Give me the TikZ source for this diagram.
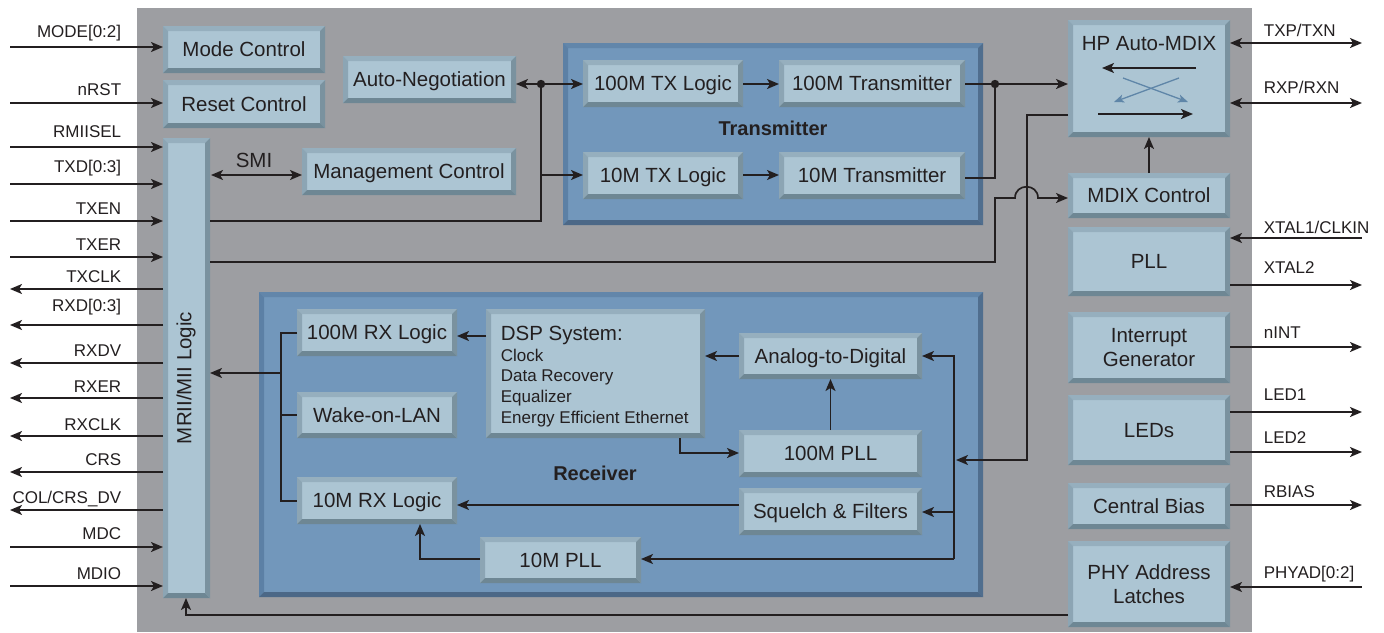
\documentclass[tikz,border=0pt]{standalone}
\usepackage{fontspec}
\setmainfont{Liberation Sans}
\usetikzlibrary{arrows.meta}
\definecolor{ink}{RGB}{35,31,32}
\definecolor{bggray}{RGB}{157,158,162}
\definecolor{boxfill}{RGB}{172,197,211}
\definecolor{bvtop}{RGB}{150,175,190}
\definecolor{bvleft}{RGB}{140,165,180}
\definecolor{bvright}{RGB}{122,146,159}
\definecolor{bvbot}{RGB}{110,135,148}
\definecolor{contfill}{RGB}{114,151,187}
\definecolor{ctop}{RGB}{98,134,170}
\definecolor{cleft}{RGB}{92,128,165}
\definecolor{cright}{RGB}{80,110,142}
\definecolor{cbot}{RGB}{76,104,135}
\definecolor{xblue}{RGB}{95,134,168}
\newcommand\mybevel[5]{%
 \fill[#2] (path picture bounding box.north west) -- (path picture bounding box.north east) -- ([xshift=-#1,yshift=-#1]path picture bounding box.north east) -- ([xshift=#1,yshift=-#1]path picture bounding box.north west) -- cycle;
 \fill[#3] (path picture bounding box.north west) -- ([xshift=#1,yshift=-#1]path picture bounding box.north west) -- ([xshift=#1,yshift=#1]path picture bounding box.south west) -- (path picture bounding box.south west) -- cycle;
 \fill[#4] (path picture bounding box.north east) -- (path picture bounding box.south east) -- ([xshift=-#1,yshift=#1]path picture bounding box.south east) -- ([xshift=-#1,yshift=-#1]path picture bounding box.north east) -- cycle;
 \fill[#5] (path picture bounding box.south west) -- (path picture bounding box.south east) -- ([xshift=-#1,yshift=#1]path picture bounding box.south east) -- ([xshift=#1,yshift=#1]path picture bounding box.south west) -- cycle;}
\tikzset{
 bxm/.style={rectangle, fill=boxfill, inner sep=0pt, outer sep=0pt, align=center,
   font=\fontsize{20.5pt}{23.5pt}\selectfont, text=ink,
   path picture={\mybevel{5pt}{bvtop}{bvleft}{bvright}{bvbot}}},
 bx/.style={bxm, text height=14.7pt, text depth=0pt},
 cont/.style={rectangle, fill=contfill, inner sep=0pt, outer sep=0pt,
   path picture={\mybevel{5pt}{ctop}{cleft}{cright}{cbot}}},
 sig/.style={font=\fontsize{17pt}{20pt}\selectfont, inner sep=0pt},
 big/.style={font=\fontsize{20.5pt}{23.5pt}\selectfont, inner sep=0pt},
 bold/.style={font=\fontsize{20pt}{23pt}\selectfont\bfseries, inner sep=0pt},
}
% [style]{name}{x1}{y1}{x2}{y2}{text}
\newcommand\bbox[7][bx]{\node[#1, minimum width={#5-#3}, minimum height={#6-#4}] (#2) at ({(#3+#5)/2},{(#4+#6)/2}) {#7};}
% left input: y, label, baseline, name
\newcommand\linsig[4]{\coordinate (#4) at (10,#1);
 \draw[->] (#4) -- (mii.west |- #4);
 \node[sig, anchor=base east] (#4l) at (122,#3) {#2};}
\newcommand\loutsig[4]{\coordinate (#4) at (10,#1);
 \draw[->] (mii.west |- #4) -- (#4);
 \node[sig, anchor=base east] (#4l) at (122,#3) {#2};}
% right signals: box, y, label, baseline, name, arrow style
\newcommand\rsig[6]{\coordinate (#5) at (1362,#2);
 \draw[#6] (#1.east |- #5) -- (#5);
 \node[sig, anchor=base west] (#5l) at (1263,#4) {#3};}
\begin{document}
\begin{tikzpicture}[x=1pt,y=-1pt, color=ink, line width=1.7pt,
  >={Stealth[length=12pt,width=10pt,inset=3pt]}]
\useasboundingbox (0,0) rectangle (1384,632);
\fill[bggray] (137,8) rectangle (1252,632);
% containers
\bbox[cont]{txc}{563}{43}{983}{225}{}
\bbox[cont]{rxc}{259}{292}{983}{597}{}
\node[bold] (txlab) at (773,128) {Transmitter};
\node[bold] (rxlab) at (595,473) {Receiver};
% boxes
\bbox{mode}{163}{26}{325}{73}{Mode Control}
\bbox{reset}{163}{80}{325}{128}{Reset Control}
\bbox{mii}{163}{138}{210}{598}{}
\node[big, rotate=90] (miit) at (186,378) {MRII/MII Logic};
\bbox{mgmt}{302}{148}{516}{195}{Management Control}
\bbox{autoneg}{343}{56}{516}{103}{Auto-Negotiation}
\bbox{txhl}{583}{60}{743}{107}{100M TX Logic}
\bbox{txtl}{583}{152}{743}{199}{10M TX Logic}
\bbox{txh}{779}{60}{965}{107}{100M Transmitter}
\bbox{txt}{779}{152}{965}{199}{10M Transmitter}
\bbox{mdix}{1068}{20}{1230}{137}{}
\node[big, anchor=base] (mdixt) at (1149,50) {HP Auto-MDIX};
\bbox{mdixc}{1068}{173}{1230}{218}{MDIX Control}
\bbox{pll}{1068}{227}{1230}{296}{PLL}
\bbox[bxm]{intg}{1068}{312}{1230}{383}{Interrupt\\Generator}
\bbox{leds}{1068}{395}{1230}{465}{LEDs}
\bbox{cbias}{1068}{483}{1230}{529}{Central Bias}
\bbox[bxm]{phy}{1068}{541}{1230}{627}{PHY Address\\Latches}
\bbox{rxhl}{297}{309}{457}{356}{100M RX Logic}
\bbox{wol}{297}{392}{457}{438}{Wake-on-LAN}
\bbox{rxtl}{297}{477}{457}{524}{10M RX Logic}
\bbox{dsp}{486}{309}{705}{438}{}
\node[big, anchor=base west] (dsp0) at (500,340) {DSP System:};
\node[sig, anchor=base west] (dsp1) at (500,361) {Clock};
\node[sig, anchor=base west] (dsp2) at (500,381) {Data Recovery};
\node[sig, anchor=base west] (dsp3) at (500,402) {Equalizer};
\node[sig, anchor=base west] (dsp4) at (500,423) {Energy Efficient Ethernet};
\bbox{plll}{480}{537}{641}{583}{10M PLL}
\bbox{adc}{739}{333}{922}{379}{Analog-to-Digital}
\bbox{pllh}{739}{430}{922}{477}{100M PLL}
\bbox{sq}{739}{488}{922}{535}{Squelch \& Filters}
% MDIX inner arrows
\coordinate (m1a) at (1196,68); \coordinate (m1b) at (1102,68);
\coordinate (m2a) at (1098,114); \coordinate (m2b) at (1193,114);
\draw[->] (m1a) -- (m1b);
\draw[->] (m2a) -- (m2b);
\coordinate (m3a) at (1179,78); \coordinate (m3b) at (1114,102);
\coordinate (m4a) at (1123,78); \coordinate (m4b) at (1188,102);
\draw[->, draw=xblue, line width=1.3pt, >={Stealth[length=10pt,width=8pt,inset=2.5pt]}] (m3a) -- (m3b);
\draw[->, draw=xblue, line width=1.3pt, >={Stealth[length=10pt,width=8pt,inset=2.5pt]}] (m4a) -- (m4b);
% left signals
\coordinate (smode) at (10,47); \draw[->] (smode) -- (mode.west |- smode);
\node[sig, anchor=base east] (smodel) at (122,37) {MODE[0:2]};
\coordinate (srst) at (10,103); \draw[->] (srst) -- (reset.west |- srst);
\node[sig, anchor=base east] (srstl) at (122,95) {nRST};
\linsig{147}{RMIISEL}{137}{s1}
\linsig{184}{TXD[0:3]}{172}{s2}
\linsig{221}{TXEN}{214}{s3}
\linsig{257}{TXER}{250}{s4}
\loutsig{289}{TXCLK}{282}{s5}
\loutsig{325}{RXD[0:3]}{311}{s6}
\loutsig{363}{RXDV}{356}{s7}
\loutsig{398}{RXER}{392}{s8}
\loutsig{436}{RXCLK}{430}{s9}
\loutsig{472}{CRS}{465}{s10}
\loutsig{510}{COL/CRS\_DV}{503}{s11}
\linsig{547}{MDC}{539}{s12}
\linsig{586}{MDIO}{579}{s13}
% right signals
\rsig{mdix}{43}{TXP/TXN}{36}{r1}{<->}
\rsig{mdix}{103}{RXP/RXN}{93}{r2}{<->}
\rsig{pll}{238}{XTAL1/CLKIN}{233}{r3}{<-}
\rsig{pll}{285}{XTAL2}{273}{r4}{->}
\rsig{intg}{347}{nINT}{338}{r5}{->}
\rsig{leds}{412}{LED1}{400}{r6}{->}
\rsig{leds}{452}{LED2}{443}{r7}{->}
\rsig{cbias}{505}{RBIAS}{497}{r8}{->}
\rsig{phy}{587}{PHYAD[0:2]}{578}{r9}{<-}
% SMI
\coordinate (smi) at (211,175);
\draw[<->] (smi) -- (mgmt.west |- smi);
\node[big] (smil) at (254,160) {SMI};
% TXEN to TX logic / autoneg
\coordinate (jd) at (541,84);
\coordinate (jt) at (541,175);
\coordinate (jb) at (541,221);
\draw (mii.east |- jb) -- (jb) -- (jd);
\draw[->] (jd) -- (autoneg.east |- jd);
\draw[->] (jd) -- (txhl.west |- jd);
\draw[->] (jt) -- (txtl.west |- jt);
\fill (jd) circle[radius=4.2pt];
\draw[->] (txhl.east |- jd) -- (txh.west |- jd);
\draw[->] (txtl.east |- jt) -- (txt.west |- jt);
% transmitters to MDIX
\coordinate (jo) at (995,84);
\coordinate (jo2) at (995,178);
\draw[->] (txh.east |- jo) -- (mdix.west |- jo);
\draw (txt.east |- jo2) -- (jo2) -- (jo);
\fill (jo) circle[radius=4.2pt];
% TXER to MDIX control with hop
\coordinate (te1) at (995,262);
\coordinate (te2) at (995,198);
\coordinate (te3) at (1015,198);
\coordinate (te4) at (1038,198);
\draw[->] (mii.east |- te1) -- (te1) -- (te2) -- (te3) .. controls (1015,183) and (1038,183) .. (te4) -- (mdixc.west |- te4);
\draw[->] (mdixc.north) -- (mdix.south);
% MDIX to receiver
\coordinate (ra) at (1027,115);
\coordinate (rb) at (1027,460);
\coordinate (rc) at (956,460);
\draw[->] (mdix.west |- ra) -- (ra) -- (rb) -- (rc);
% receiver bus
\coordinate (b1) at (954,356);
\coordinate (b2) at (954,512);
\coordinate (b3) at (954,559);
\draw[->] (b3) -- (b1) -- (adc.east |- b1);
\draw[->] (b2) -- (sq.east |- b2);
\draw[->] (b3) -- (plll.east |- b3);
\draw[->] (pllh.north) -- (adc.south);
\coordinate (ad) at (739,356);
\draw[->] (adc.west |- ad) -- (dsp.east |- ad);
\coordinate (d1) at (680,438);
\coordinate (d2) at (680,453);
\draw[->] (d1) -- (d2) -- (pllh.west |- d2);
\coordinate (d3) at (486,336);
\draw[->] (d3) -- (rxhl.east |- d3);
\coordinate (q1) at (739,505);
\draw[->] (q1) -- (rxtl.east |- q1);
\coordinate (p1) at (420,559);
\draw[->] (plll.west |- p1) -- (p1) -- (rxtl.south -| p1);
% left receiver bus
\coordinate (lb1) at (281,333);
\coordinate (lb2) at (281,501);
\coordinate (lbw) at (281,415);
\coordinate (lbm) at (281,373);
\draw (rxhl.west |- lb1) -- (lb1) -- (lb2) -- (rxtl.west |- lb2);
\draw (lbw) -- (wol.west |- lbw);
\draw[->] (lbm) -- (mii.east |- lbm);
% PHY to MII
\coordinate (ph1) at (186,615);
\draw[->] (phy.west |- ph1) -- (ph1) -- (mii.south -| ph1);
\end{tikzpicture}
\end{document}
